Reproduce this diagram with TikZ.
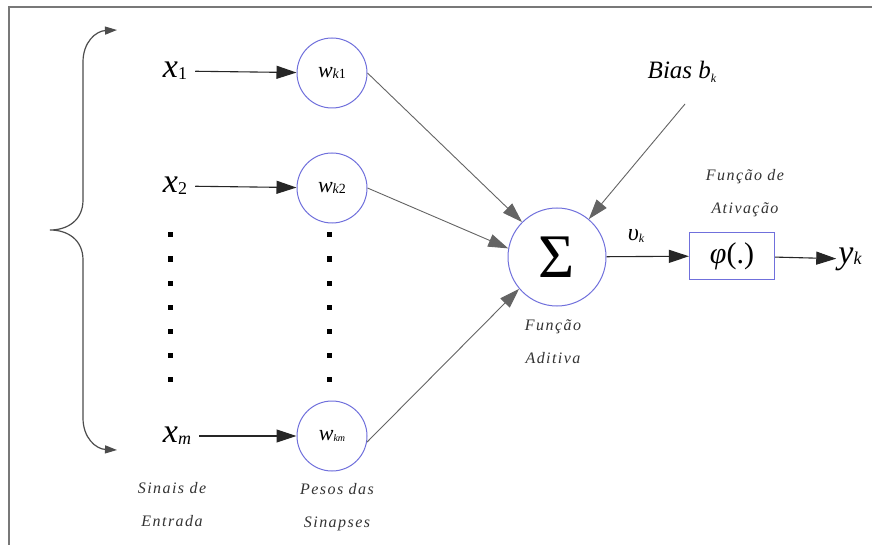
\documentclass[tikz,border=0pt]{standalone}
\usepackage{fontspec}
\setmainfont{Liberation Serif}
\newfontfamily\spacedit{Liberation Serif}[LetterSpace=9]
\usetikzlibrary{arrows.meta}
\definecolor{circblue}{RGB}{112,112,220}
\definecolor{linegray}{RGB}{100,100,100}
\definecolor{framegray}{RGB}{120,120,120}
\newcommand{\bigsym}[4]{{\fontsize{#1}{#1}\selectfont\itshape #2}\raisebox{-0.4ex}{\fontsize{#3}{#3}\selectfont #4}}
\begin{document}
\begin{tikzpicture}[x=1pt,y=-1pt,
  wcirc/.style={circle,draw=circblue,line width=1pt,minimum size=70pt,inner sep=0pt},
  sumcirc/.style={circle,draw=circblue,line width=1pt,minimum size=98pt,inner sep=0pt},
  phibox/.style={rectangle,draw=circblue,line width=1.2pt,minimum width=85pt,minimum height=47pt,inner sep=0pt},
  inlab/.style={inner sep=2pt},
  smalllab/.style={font=\fontsize{16}{33}\selectfont\spacedit\itshape,align=center,text=black!80},
  harrow/.style={-{Triangle[length=20pt,width=13pt]},line width=1.1pt,black!85},
  darrow/.style={-{Triangle[length=20pt,width=13pt]},line width=0.9pt,linegray},
  sqdot/.style={rectangle,fill=black,minimum size=5pt,inner sep=0pt},
  brace/.style={{Triangle[length=12pt,width=8pt]}-{Triangle[length=12pt,width=8pt]},line width=1.2pt,black!70}]
\useasboundingbox (0,0) rectangle (872,545);
\fill[white] (0,0) rectangle (872,545);
% frame
\draw[framegray,line width=1.6pt] (9,545) -- (9,7) -- (872,7);

% input labels
\node[inlab] (x1) at (175,71) {\bigsym{34}{x}{18}{1}};
\node[inlab] (x2) at (175,186) {\bigsym{34}{x}{18}{2}};
\node[inlab] (xm) at (177,436) {\bigsym{34}{x}{18}{\itshape m}};

% weights
\node[wcirc] (w1) at (332,73) {\bigsym{22}{w}{14}{\itshape k\upshape 1}};
\node[wcirc] (w2) at (332,188) {\bigsym{22}{w}{14}{\itshape k\upshape 2}};
\node[wcirc] (wm) at (332,436) {\bigsym{22}{w}{10}{\itshape km}};

% sum and activation
\node[sumcirc] (sum) at (557,257) {\fontsize{62}{62}\selectfont Σ};
\node[phibox] (phi) at (732,256) {\fontsize{30}{30}\selectfont\itshape φ\upshape(.)};
\node[inlab] (yk) at (850,259) {\bigsym{34}{y}{18}{\itshape k}};
\node[inlab] (vk) at (636,236) {\bigsym{24}{υ}{12}{\itshape k}};
\node (bias) at (682,72) {\fontsize{25}{25}\selectfont\itshape Bias \bigsym{25}{b}{12}{k}};
\coordinate (bstart) at (685,104);

% dots
\foreach \yy in {235,259,283,307,331,355,379}{
  \node[sqdot] at (170,\yy) {};
  \node[sqdot] at (329,\yy) {};
}

% brace
\coordinate (btop) at (117,30);
\coordinate (bbot) at (117,450);
\draw[brace] (btop) .. controls (96,31) and (83,42) .. (83,62) -- (83,200)
  .. controls (83,220) and (68,230) .. (50,230)
  .. controls (68,230) and (83,240) .. (83,260) -- (83,418)
  .. controls (83,438) and (96,449) .. (bbot);

% horizontal arrows
\draw[harrow,shorten <=6pt] (x1) -- (w1);
\draw[harrow,shorten <=6pt] (x2) -- (w2);
\draw[harrow,shorten <=6pt] (xm) -- (wm);
\draw[harrow] (sum) -- (phi);
\draw[harrow] (phi) -- (yk);

% diagonal arrows
\draw[darrow] (w1.east) -- (sum.135);
\draw[darrow] (w2.east) -- (sum.170);
\draw[darrow] (wm.-10) -- (sum.220);
\draw[darrow] (bstart) -- (sum.50);

% text labels
\node[smalllab] (lact) at (745,193) {Função de\\Ativação};
\node[smalllab] (ladd) at (553,342) {Função\\Aditiva};
\node[smalllab] (lin) at (172,505) {Sinais de\\Entrada};
\node[smalllab] (lpes) at (337,507) {Pesos das\\Sinapses};
\end{tikzpicture}
\end{document}
